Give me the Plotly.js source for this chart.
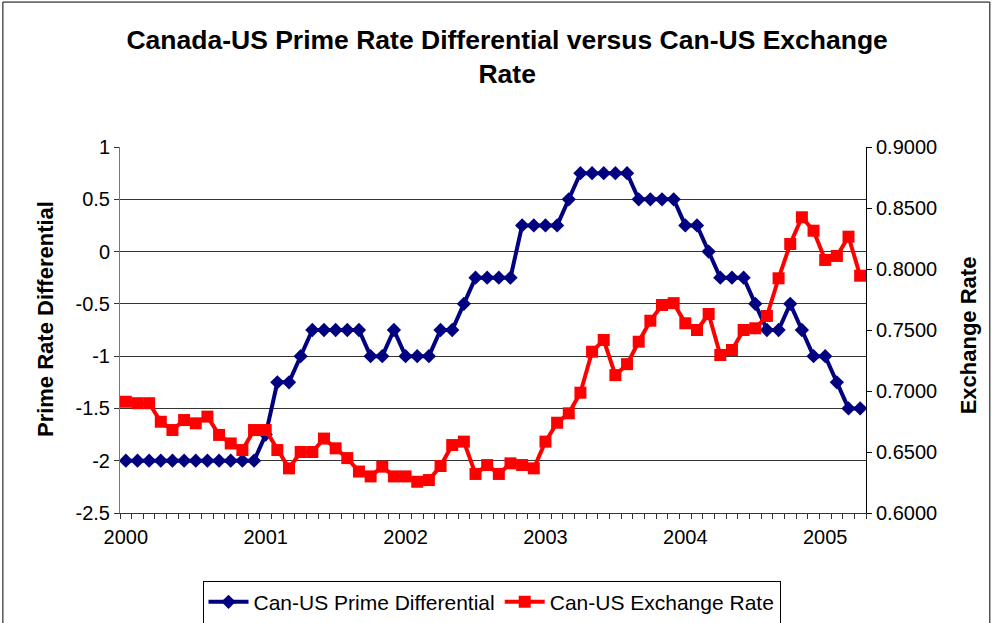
<!DOCTYPE html>
<html>
<head>
<meta charset="utf-8">
<script src="https://cdn.plot.ly/plotly-3.0.1.min.js"></script>
<style>
  body { margin: 0; background: #fff; }
  #chart { width: 995px; height: 623px; }
</style>
</head>
<body>
<div id="chart"></div>
<script>
// monthly, Jan 2000 .. Apr 2005 (index 0 = Jan 2000)
var months = [];
for (var i = 0; i < 64; i++) months.push(i);

var yearLabels = ['2000', '2001', '2002', '2003', '2004', '2005'];
var yearPos = [0, 12, 24, 36, 48, 60];

// left axis ticks, written with a plain hyphen like the original
var diffTicks = [-2.5, -2, -1.5, -1, -0.5, 0, 0.5, 1];
var diffTickText = ['-2.5', '-2', '-1.5', '-1', '-0.5', '0', '0.5', '1'];

var primeDiff = [
  -2, -2, -2, -2, -2, -2, -2, -2, -2, -2, -2, -2,
  -1.75, -1.25, -1.25, -1, -0.75, -0.75, -0.75, -0.75, -0.75, -1, -1, -0.75,
  -1, -1, -1, -0.75, -0.75, -0.5, -0.25, -0.25, -0.25, -0.25, 0.25, 0.25,
  0.25, 0.25, 0.5, 0.75, 0.75, 0.75, 0.75, 0.75, 0.5, 0.5, 0.5, 0.5,
  0.25, 0.25, 0, -0.25, -0.25, -0.25, -0.5, -0.75, -0.75, -0.5, -0.75, -1,
  -1, -1.25, -1.5, -1.5
];

var exchRate = [
  0.6912, 0.6900, 0.6900, 0.6748, 0.6680, 0.6762, 0.6735, 0.6790, 0.6640, 0.6570, 0.6516, 0.6680,
  0.6680, 0.6516, 0.6366, 0.6500, 0.6500, 0.6610, 0.6530, 0.6450, 0.6340, 0.6300, 0.6380, 0.6300,
  0.6300, 0.6256, 0.6270, 0.6385, 0.6557, 0.6585, 0.6320, 0.6393, 0.6320, 0.6407, 0.6393, 0.6366,
  0.6585, 0.6740, 0.6817, 0.6986, 0.7322, 0.7418, 0.7130, 0.7220, 0.7404, 0.7576, 0.7705, 0.7720,
  0.7555, 0.7500, 0.7631, 0.7295, 0.7336, 0.7500, 0.7514, 0.7615, 0.7924, 0.8205, 0.8424, 0.8314,
  0.8074, 0.8107, 0.8265, 0.7945
];

var FONT = 'Liberation Sans, Arial, sans-serif';

var trace1 = {
  x: months,
  y: primeDiff,
  name: 'Can-US Prime Differential',
  type: 'scatter',
  mode: 'lines+markers',
  line: { color: '#000080', width: 4 },
  marker: { symbol: 'diamond', size: 11, color: '#000080' }
};

var trace2 = {
  x: months,
  y: exchRate,
  name: 'Can-US Exchange Rate',
  type: 'scatter',
  mode: 'lines+markers',
  yaxis: 'y2',
  line: { color: '#ff0000', width: 4 },
  marker: { symbol: 'square', size: 12, color: '#ff0000' }
};

var layout = {
  width: 995,
  height: 623,
  margin: { l: 120, r: 129, t: 147, b: 110 },
  paper_bgcolor: '#fff',
  plot_bgcolor: '#fff',
  font: { family: FONT, size: 20, color: '#000' },
  showlegend: true,
  title: {
    text: '<b>Canada-US Prime Rate Differential versus Can-US Exchange<br>Rate</b>',
    font: { family: FONT, size: 26.5, color: '#000' },
    xref: 'paper', x: 0.519, xanchor: 'center',
    yref: 'container', y: 0.922, yanchor: 'middle'
  },
  xaxis: {
    range: [-0.5, 63.5],
    tickmode: 'array',
    tickvals: yearPos,
    ticktext: yearLabels,
    ticks: '',
    ticklabelstandoff: 6,
    showgrid: false,
    zeroline: false,
    showline: true,
    linecolor: '#333',
    linewidth: 1,
    automargin: false,
    tickfont: { size: 20 },
    minor: { tickmode: 'linear', tick0: -0.5, dtick: 1, ticks: 'outside', ticklen: 5, tickcolor: '#333', showgrid: false }
  },
  yaxis: {
    range: [-2.5, 1],
    tickmode: 'array',
    tickvals: diffTicks,
    ticktext: diffTickText,
    ticks: 'outside',
    ticklen: 5,
    tickcolor: '#333',
    showgrid: true,
    gridcolor: '#333',
    gridwidth: 1,
    zeroline: false,
    showline: true,
    linecolor: '#777',
    linewidth: 1,
    automargin: false,
    tickfont: { size: 20 }
  },
  yaxis2: {
    overlaying: 'y',
    side: 'right',
    range: [0.6, 0.9],
    dtick: 0.05,
    tick0: 0.6,
    tickformat: '.4f',
    ticks: 'outside',
    ticklen: 5,
    tickcolor: '#000',
    showgrid: false,
    zeroline: false,
    showline: true,
    linecolor: '#000',
    linewidth: 1,
    automargin: false,
    tickfont: { size: 20 }
  },
  legend: {
    orientation: 'h',
    xref: 'paper', x: 0.498, xanchor: 'center',
    yref: 'container', y: 0.068, yanchor: 'top',
    bordercolor: '#000',
    borderwidth: 1,
    font: { size: 21 },
    itemwidth: 40
  },
  annotations: [
    {
      text: '<b>Prime Rate Differential</b>',
      xref: 'paper', yref: 'paper',
      x: -0.1005, y: 0.53, xanchor: 'center', yanchor: 'middle',
      textangle: -90, showarrow: false,
      font: { size: 22 }
    },
    {
      text: '<b>Exchange Rate</b>',
      xref: 'paper', yref: 'paper',
      x: 1.137, y: 0.486, xanchor: 'center', yanchor: 'middle',
      textangle: -90, showarrow: false,
      font: { size: 22 }
    }
  ],
  shapes: [
    {
      type: 'rect', xref: 'paper', yref: 'paper',
      x0: -0.157, x1: 1.166, y0: -0.31, y1: 1.396,
      line: { color: '#000', width: 1 }
    }
  ]
};

Plotly.newPlot('chart', [trace1, trace2], layout, { displayModeBar: false, staticPlot: true });
</script>
</body>
</html>
